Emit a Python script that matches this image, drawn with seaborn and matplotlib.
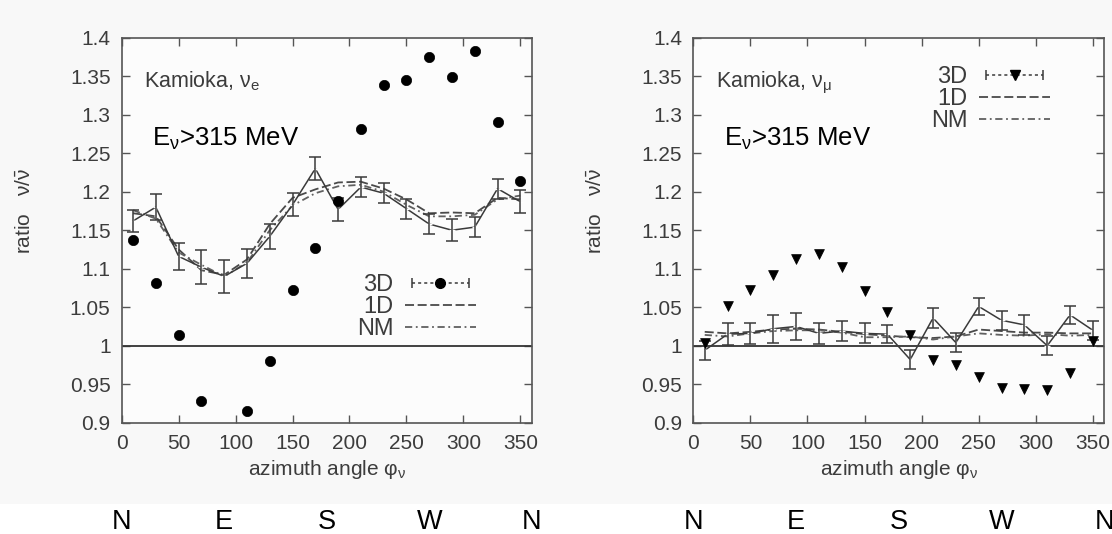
import matplotlib
matplotlib.use("Agg")
import numpy as np
import pandas as pd
import matplotlib.pyplot as plt
import seaborn as sns
from matplotlib.lines import Line2D
from matplotlib.legend_handler import HandlerLine2D, HandlerTuple
from matplotlib.patches import Rectangle
import matplotlib.transforms as mtransforms

# ---------------- data ----------------
azimuth = [10, 30, 50, 70, 90, 110, 130, 150, 170, 190, 210, 230, 250, 270, 290, 310, 330, 350]

# nu_e panel
e_dots = [1.137, 1.081, 1.014, 0.928, 0.890, 0.915, 0.980, 1.072, 1.127, 1.188,
          1.282, 1.338, 1.345, 1.375, 1.349, 1.383, 1.290, 1.214]
e_3d = [1.162, 1.180, 1.116, 1.102, 1.090, 1.107, 1.142, 1.183, 1.230, 1.177,
        1.206, 1.198, 1.178, 1.158, 1.150, 1.154, 1.204, 1.187]
e_3d_err = [0.014, 0.017, 0.018, 0.022, 0.021, 0.019, 0.016, 0.015, 0.015, 0.015,
            0.013, 0.013, 0.013, 0.013, 0.014, 0.013, 0.013, 0.015]
e_1d = [1.172, 1.168, 1.125, 1.098, 1.092, 1.112, 1.158, 1.192, 1.203, 1.212,
        1.213, 1.204, 1.190, 1.172, 1.173, 1.172, 1.192, 1.190]
e_nm = [1.176, 1.165, 1.121, 1.105, 1.090, 1.108, 1.150, 1.182, 1.198, 1.207,
        1.209, 1.200, 1.183, 1.168, 1.168, 1.170, 1.190, 1.195]

# nu_mu panel
mu_dots = [1.003, 1.051, 1.072, 1.092, 1.112, 1.119, 1.102, 1.071, 1.044, 1.014,
           0.982, 0.975, 0.960, 0.945, 0.944, 0.942, 0.965, 1.006]
mu_3d = [0.994, 1.015, 1.016, 1.022, 1.025, 1.016, 1.019, 1.016, 1.015, 0.982,
         1.036, 1.004, 1.051, 1.033, 1.027, 1.000, 1.040, 1.020]
mu_3d_err = [0.012, 0.014, 0.014, 0.018, 0.018, 0.014, 0.013, 0.013, 0.012, 0.012,
             0.013, 0.012, 0.011, 0.012, 0.013, 0.012, 0.012, 0.012]
mu_1d = [1.018, 1.016, 1.018, 1.021, 1.022, 1.021, 1.018, 1.015, 1.013, 1.011,
         1.010, 1.012, 1.021, 1.019, 1.017, 1.017, 1.016, 1.016]
mu_nm = [1.014, 1.012, 1.016, 1.019, 1.020, 1.020, 1.017, 1.011, 1.011, 1.012,
         1.008, 1.012, 1.016, 1.014, 1.013, 1.015, 1.013, 1.014]

x_ticks = [0, 50, 100, 150, 200, 250, 300, 350]
y_ticks = [0.9, 0.95, 1.0, 1.05, 1.1, 1.15, 1.2, 1.25, 1.3, 1.35, 1.4]
y_tick_labels = ["0.9", "0.95", "1", "1.05", "1.1", "1.15", "1.2", "1.25", "1.3", "1.35", "1.4"]
compass_angles = [0, 90, 180, 270, 360]
compass_labels = ["N", "E", "S", "W", "N"]
series_labels = ["3D", "1D", "NM"]

# ---------------- style ----------------
sns.set_theme(style="ticks")
plt.rcParams["font.family"] = ["Liberation Sans", "DejaVu Sans"]
plt.rcParams["mathtext.fontset"] = "custom"
plt.rcParams["mathtext.rm"] = "Liberation Sans"
plt.rcParams["mathtext.it"] = "Liberation Sans"
plt.rcParams["mathtext.sf"] = "Liberation Sans"

TXT = "#3c3c3c"
LINE = "#3a3a3a"

fig = plt.figure(figsize=(11.12, 5.34), dpi=100, facecolor="#f8f8f8")
fig.patches.append(Rectangle((0, 0), 1, 30 / 534, transform=fig.transFigure,
                             facecolor="white", edgecolor="none", zorder=-10))

ax_l = fig.add_axes([121.7 / 1112, 1 - 422.7 / 534, 410 / 1112, 385 / 534])
ax_r = fig.add_axes([693.3 / 1112, 1 - 422.7 / 534, 411 / 1112, 385 / 534])


def panel(ax, dots, d3, d3err, d1, nm, marker, flavour, legend_pos, dot_size):
    ax.set_facecolor("#fcfcfc")
    df = pd.DataFrame({"azimuth": azimuth, "dots": dots, "d3": d3, "d1": d1, "nm": nm})
    ax.axhline(1.0, color="#333333", lw=1.3, zorder=1)
    # 1D and NM dashed curves
    sns.lineplot(data=df, x="azimuth", y="d1", ax=ax, color="#4a4a4a", lw=1.3,
                 linestyle=(0, (5, 2)), zorder=2)
    sns.lineplot(data=df, x="azimuth", y="nm", ax=ax, color="#606060", lw=1.3,
                 linestyle=(0, (4, 2, 1, 2)), zorder=2)
    # 3D curve with error bars
    sns.lineplot(data=df, x="azimuth", y="d3", ax=ax, color=LINE, lw=1.1,
                 marker="+", markersize=5, markeredgewidth=1.0, zorder=3)
    ax.errorbar(df["azimuth"], df["d3"], yerr=d3err, fmt="none", ecolor=LINE,
                elinewidth=1.1, capsize=4, capthick=1.1, zorder=3)
    # scattered points
    sns.scatterplot(data=df, x="azimuth", y="dots", ax=ax, marker=marker, s=dot_size,
                    color="black", edgecolor="black", linewidth=0.5, zorder=4)

    ax.set_xlim(0, 360)
    ax.set_ylim(0.9, 1.4)
    ax.set_xticks(x_ticks)
    ax.set_yticks(y_ticks)
    ax.set_yticklabels(y_tick_labels)
    ax.tick_params(direction="in", length=6, width=1, colors="#555555",
                   labelcolor=TXT, labelsize=15, top=True, right=True, pad=8)
    for s in ax.spines.values():
        s.set_color("#555555")
        s.set_linewidth(1.2)
    ax.set_xlabel(r"azimuth angle $\varphi_\nu$", fontsize=15, color=TXT, labelpad=4)
    ax.set_ylabel(r"ratio   $\nu/\bar{\nu}$", fontsize=15, color=TXT)
    ax.yaxis.set_label_coords(-0.215, 0.55)

    ax.text(0.055, 0.87, "Kamioka, " + flavour, transform=ax.transAxes,
            fontsize=15.5, color=TXT, va="baseline")
    ax.text(0.075, 0.72, r"E$_\nu$>315 MeV", transform=ax.transAxes,
            fontsize=18.5, color="black", va="baseline")

    trans = mtransforms.blended_transform_factory(ax.transData, fig.transFigure)
    for a, lab in zip(compass_angles, compass_labels):
        ax.text(a, 1 - 522 / 534, lab, transform=trans, fontsize=19.5, color="black",
                ha="center", va="center", clip_on=False)

    # legend
    caps = Line2D([], [], color=LINE, ls=(0, (2, 2)), lw=1.1, marker="|",
                  markersize=7, markeredgewidth=1.1)
    dot = Line2D([], [], color="black", ls="none", marker=marker, markersize=7)
    h1 = Line2D([], [], color="#4a4a4a", lw=1.3, ls=(0, (5, 2)))
    h2 = Line2D([], [], color="#606060", lw=1.3, ls=(0, (4, 2, 1, 2)))
    leg = ax.legend([(caps, dot), h1, h2], series_labels, markerfirst=False,
                    frameon=False, loc="upper left", bbox_to_anchor=legend_pos,
                    fontsize=17, handlelength=3.0, handletextpad=0.5,
                    labelspacing=0.0, borderaxespad=0,
                    handler_map={caps: HandlerLine2D(numpoints=2),
                                 tuple: HandlerTuple(ndivide=1)})
    for t in leg.get_texts():
        t.set_color(TXT)
        t.set_ha("right")


panel(ax_l, e_dots, e_3d, e_3d_err, e_1d, e_nm, "o", r"$\nu_e$", (0.55, 0.41), 55)
panel(ax_r, mu_dots, mu_3d, mu_3d_err, mu_1d, mu_nm, "v", r"$\nu_\mu$", (0.555, 0.95), 50)

fig.savefig("out.png", dpi=100, facecolor=fig.get_facecolor())
